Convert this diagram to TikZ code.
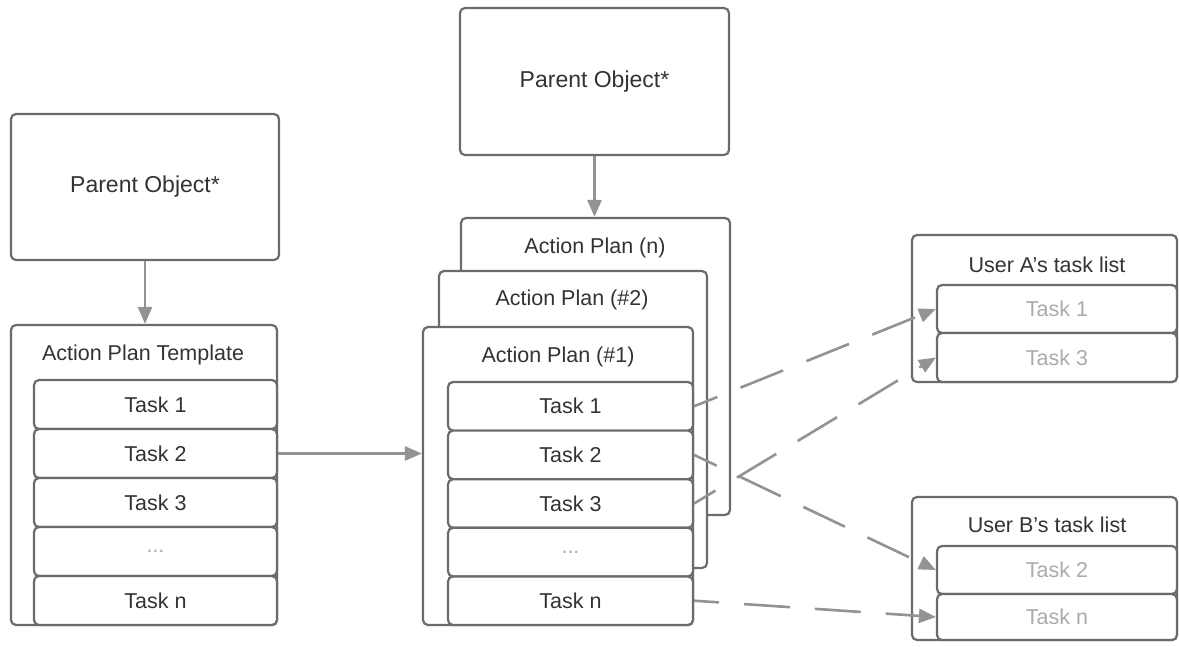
\documentclass[tikz,border=0pt]{standalone}
\usepackage{fontspec}
\setmainfont{Liberation Sans}
\usetikzlibrary{arrows.meta}
\definecolor{boxline}{HTML}{6B6B6B}
\definecolor{arrowc}{HTML}{939393}
\definecolor{txt}{HTML}{333333}
\definecolor{lighttxt}{HTML}{ABABAB}
\tikzset{
  box/.style={draw=boxline, line width=2.2pt, rounded corners=5pt, fill=white, inner sep=0pt},
  lbl/.style={text=txt, font=\fontsize{21.5}{25}\selectfont, inner sep=0pt},
  biglbl/.style={text=txt, font=\fontsize{23}{27}\selectfont},
  tasktxt/.style={text=txt, font=\fontsize{21.5}{25}\selectfont},
  usertask/.style={text=lighttxt, font=\fontsize{21.5}{25}\selectfont},
  solidarrow/.style={draw=arrowc, line width=2.6pt, -{Triangle[length=17pt,width=14pt]}},
  dasharrow/.style={draw=arrowc, line width=2.6pt, dash pattern=on 46pt off 25pt, dash phase=21pt, -{Triangle[length=17pt,width=14pt]}},
}
\begin{document}
\begin{tikzpicture}[x=1pt,y=-1pt]
\fill[white] (0,0) rectangle (1179,646);
\useasboundingbox (0,0) rectangle (1179,646);

% ---------- left column ----------
\node[box, biglbl, minimum width=268pt, minimum height=146pt] (po1) at (145,187) {Parent Object*};
\node[box, minimum width=266pt, minimum height=300pt] (tpl) at (144,475) {};
\node[lbl] (tpltitle) at (143,355) {Action Plan Template};
\node[box, tasktxt, minimum width=243pt, minimum height=49pt] (tt1) at (155.5,404.5) {Task 1};
\node[box, tasktxt, minimum width=243pt, minimum height=49pt] (tt2) at (155.5,453.5) {Task 2};
\node[box, tasktxt, minimum width=243pt, minimum height=49pt] (tt3) at (155.5,502.5) {Task 3};
\node[box, tasktxt, minimum width=243pt, minimum height=49pt, text=lighttxt] (tt4) at (155.5,551.5) {...};
\node[box, tasktxt, minimum width=243pt, minimum height=49pt] (tt5) at (155.5,600.5) {Task n};

\draw[solidarrow] (po1.south) -- (po1.south |- tpl.north);

% ---------- middle column ----------
\node[box, biglbl, minimum width=269pt, minimum height=147pt] (po2) at (594.5,81.5) {Parent Object*};
\node[box, minimum width=269pt, minimum height=297pt] (apn) at (595.5,366.5) {};
\node[lbl] (apntitle) at (595,248) {Action Plan (n)};
\node[box, minimum width=268pt, minimum height=297pt] (ap2) at (573,419.5) {};
\node[lbl] (ap2title) at (572,300) {Action Plan (\#2)};
\node[box, minimum width=270pt, minimum height=298pt] (ap1) at (558,476) {};
\node[lbl] (ap1title) at (558,357) {Action Plan (\#1)};
\node[box, tasktxt, minimum width=245pt, minimum height=48.6pt] (pt1) at (570.5,406.3) {Task 1};
\node[box, tasktxt, minimum width=245pt, minimum height=48.6pt] (pt2) at (570.5,454.9) {Task 2};
\node[box, tasktxt, minimum width=245pt, minimum height=48.6pt] (pt3) at (570.5,503.5) {Task 3};
\node[box, tasktxt, minimum width=245pt, minimum height=48.6pt, text=lighttxt] (pt4) at (570.5,552.1) {...};
\node[box, tasktxt, minimum width=245pt, minimum height=48.6pt] (pt5) at (570.5,600.7) {Task n};

\draw[solidarrow] (po2.south) -- (po2.south |- apn.north);
\draw[solidarrow] (tt2.east) -- (ap1.west |- tt2.east);

% ---------- right column ----------
\node[box, minimum width=265pt, minimum height=147pt] (ua) at (1044.5,308.5) {};
\node[lbl] (uatitle) at (1047,265) {User A's task list};
\node[box, usertask, minimum width=240pt, minimum height=48pt] (ua1) at (1057,309) {Task 1};
\node[box, usertask, minimum width=240pt, minimum height=49pt] (ua3) at (1057,357.5) {Task 3};

\node[box, minimum width=265pt, minimum height=143pt] (ub) at (1044.5,568.5) {};
\node[lbl] (ubtitle) at (1047,525) {User B's task list};
\node[box, usertask, minimum width=240pt, minimum height=48pt] (ub2) at (1057,570) {Task 2};
\node[box, usertask, minimum width=240pt, minimum height=46pt] (ubn) at (1057,617) {Task n};

% ---------- dashed assignments ----------
\draw[dasharrow] (pt1.east) -- (ua1.west);
\draw[dasharrow] (pt3.east) -- (ua3.west);
\draw[dasharrow] (pt2.east) -- (ub2.west);
\draw[dasharrow] (pt5.east) -- (ubn.west);
\end{tikzpicture}
\end{document}
